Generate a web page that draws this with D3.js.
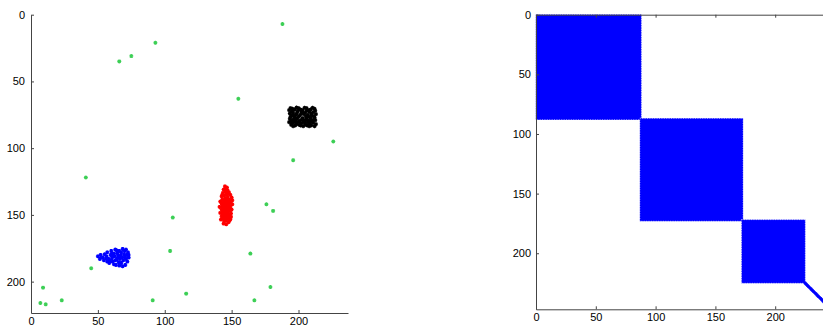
<!DOCTYPE html>
<html>
<head>
<meta charset="utf-8">
<script src="https://cdn.jsdelivr.net/npm/d3@7"></script>
<style>
  body { margin: 0; background: #fff; }
  .axis text { font: 11px "Liberation Sans", Arial, sans-serif; fill: #000; }
  .axis path, .axis line { stroke: #444; }
</style>
</head>
<body>
<div id="main"></div>
<script>
// cluster points (x, y), y axis is reversed
var blackPts = [[194,70],[197,71],[200,70],[203,71.5],[206,70],[209,71],[212,70.5],
  [195,72.5],[199,73],[202,72],[205,73.5],[208,72.5],[211,73],
  [193.5,74],[196,75],[198.5,74.5],[201,75.5],[204,74.5],[207,75],[210,75.5],[213,74.5],
  [194,76.5],[197.5,77],[200,76.5],[203,77.5],[206,77],[209,77.5],[212,77],
  [195,79],[198,78.5],[201,79.5],[204.5,79],[207.5,79.5],[210.5,79],
  [193,80.5],[196,81],[199,80.5],[202,81.5],[205,81],[208,81.5],[211,81],[213,82],
  [194.5,82.5],[197.5,83],[200.5,82.5],[203.5,83.5],[206.5,83],[209.5,83],[212,83.5],
  [195.5,70.5],[198.5,69.5],[201.5,71],[204.5,69.8],[207.5,71.5],[210.5,69.8],[193,71.5],
  [196,73.5],[199.5,72],[203,73],[206,72],[209.5,74],[212.5,72],[195,75.5],[197,76],
  [202,74],[205.5,76],[208,76.5],[211.5,76],[193.5,78],[196.5,78],[199,78],[202.5,78.5],
  [206,78.5],[209,79.5],[212.5,79],[194.5,79.5],[197,80],[200.5,80],[203.5,80.5],
  [207,80.5],[210,80.5],[195,81.5],[198.5,82],[201.5,83],[205,82.5],[208,83.5],[196,83.5]];

var redPts = [[145,128.5],[146.5,129.5],[144,131],[147,131.5],[145.5,132.5],[143.5,133.5],
  [148,133],[146,134.5],[144.5,135.5],[149,135],[142.5,136],[147,136.5],[145,137.5],
  [150,137],[143,138.5],[148,138.5],[146,139],[141.5,140],[144.5,140.5],[149.5,140],
  [147,141],[142.5,141.5],[145.5,142],[150.5,142],[148,142.5],[143.5,143],[146.5,143.5],
  [141,144],[144.5,144.5],[149,144],[147.5,145],[145,145.5],[142.5,146],[150,146],
  [146,146.5],[148,147],[143.5,147.5],[145,148],[141.5,148.5],[147,149],[149.5,149],
  [144,150],[146,150.5],[142.5,151],[148.5,151],[145,152],[147,152.5],[143.5,153],
  [146,154],[149,153.5],[144.5,155],[147.5,155.5],[146,157],
  [146,138],[144,139.5],[147.5,139.5],[145,141],[148.5,141],[143,142],[146,142.5],
  [147,143],[145,143.5],[148,144],[143,144.5],[146,145],[144,146],[147,146],[149,147],
  [145.5,147],[143,149],[146,148.5],[148,149.5],[145,149.5],[147,150.5],[144,151.5],
  [146.5,151.5],[149.5,151.5],[142,153.5],[145,154],[148,155],[144,156.5],[145.5,130],
  [147.5,134],[143,135],[150.5,139]];

var bluePts = [[50,181],[52,180],[51.5,183],[53.5,182],[55,179.5],[54.5,184],[56.5,181],
  [57,178],[58,183],[58.5,186],[59.5,180],[60,177],[60.5,182.5],[61,185],[62,179],
  [62.5,181],[63,176],[63,184],[63.5,187.5],[64.5,178.5],[65,182],[65,180],[65.5,185.5],
  [66,177],[66.5,183],[67,180.5],[67.5,178],[67.5,186],[68,182],[68.5,175.5],[69,184],
  [69.5,179.5],[70,181.5],[70,177],[70.5,187.5],[71,183],[71.5,180],[72,185],[72.5,178],
  [73,182],[73,180],[61,181],[64,183.5],[59,184.5],[66,188],[62,187],[57,185],
  [68.5,188.5],[56,182.5],[64,176.5],[71,176],[60.5,179]];

var noisePts = [[188,7],[93,21],[66,35],[75,31],[155,63],[226,95],[196,109],[41,122],
  [176,142],[181,147],[106,152],[104,177],[164,179],[45,190],[9,204.5],[179,204],
  [116,209],[7,216],[11,217],[23,214],[91,214],[167,214]];

var clusterColors = ['#000000', '#ff0000', '#0000ff'];
var noiseColor = '#3ccf55';
var tickVals = [0, 50, 100, 150, 200];

var svg = d3.select('#main').append('svg')
    .attr('width', 823).attr('height', 330);

// ---------- left: scatter ----------
var x = d3.scaleLinear().domain([0, 237]).range([31, 348]);
var y = d3.scaleLinear().domain([0, 223.5]).range([14.7, 313]);

var star = function(r) {
    var d = r * 0.72;
    return 'M' + (-r) + ',0L' + r + ',0M0,' + (-r) + 'L0,' + r
        + 'M' + (-d) + ',' + (-d) + 'L' + d + ',' + d
        + 'M' + (-d) + ',' + d + 'L' + d + ',' + (-d);
};

var left = svg.append('g');
left.append('g')
    .attr('class', 'axis')
    .attr('transform', 'translate(0,313)')
    .call(d3.axisBottom(x).tickValues(tickVals).tickSizeInner(-3).tickSizeOuter(0).tickPadding(4));
left.append('g')
    .attr('class', 'axis')
    .attr('transform', 'translate(31,0)')
    .call(d3.axisLeft(y).tickValues(tickVals).tickSizeInner(-3).tickSizeOuter(0).tickPadding(6));

var groups = [blackPts, redPts, bluePts, noisePts];
var colors = clusterColors.concat([noiseColor]);
groups.forEach(function(pts, k) {
    left.selectAll('.pt' + k).data(pts)
        .enter().append('path')
        .attr('class', 'pt' + k)
        .attr('d', star(2))
        .attr('transform', function(d) { return 'translate(' + x(d[0]) + ',' + y(d[1]) + ')'; })
        .style('stroke', colors[k])
        .style('stroke-width', 1.1)
        .style('fill', 'none');
});

// ---------- right: spy of the block affinity matrix ----------
var n = blackPts.length + redPts.length + bluePts.length + noisePts.length;
var xm = d3.scaleLinear().domain([0, n + 1]).range([536, 831.4]);
var ym = d3.scaleLinear().domain([0, n + 1]).range([14.7, 309.3]);

var right = svg.append('g');
var blocks = [];
var start = 1;
[blackPts, redPts, bluePts].forEach(function(pts) {
    blocks.push({ s: start, e: start + pts.length - 1 });
    start += pts.length;
});
var diag = d3.range(start, n + 1);
var pad = 1.2;

right.selectAll('.block').data(blocks)
    .enter().append('rect')
    .attr('class', 'block')
    .attr('x', function(d) { return xm(d.s - pad); })
    .attr('y', function(d) { return ym(d.s - pad); })
    .attr('width', function(d) { return xm(d.e + pad) - xm(d.s - pad); })
    .attr('height', function(d) { return ym(d.e + pad) - ym(d.s - pad); })
    .style('fill', '#0000ff')
    .style('stroke', '#ffffff')
    .style('stroke-width', 0.7)
    .style('stroke-dasharray', '1,1.4');

right.selectAll('.diag').data(diag)
    .enter().append('circle')
    .attr('class', 'diag')
    .attr('cx', function(d) { return xm(d); })
    .attr('cy', function(d) { return ym(d); })
    .attr('r', 1.7)
    .style('fill', '#0000ff');

right.append('g')
    .attr('class', 'axis')
    .attr('transform', 'translate(0,309.3)')
    .call(d3.axisBottom(xm).tickValues(tickVals).tickSizeInner(-3).tickSizeOuter(0).tickPadding(4));
right.append('g')
    .attr('class', 'axis')
    .attr('transform', 'translate(0,14.7)')
    .call(d3.axisTop(xm).tickValues(tickVals).tickFormat('').tickSizeInner(-3).tickSizeOuter(0));
right.append('g')
    .attr('class', 'axis')
    .attr('transform', 'translate(536,0)')
    .call(d3.axisLeft(ym).tickValues(tickVals).tickSizeInner(-3).tickSizeOuter(0).tickPadding(5));
</script>
</body>
</html>
